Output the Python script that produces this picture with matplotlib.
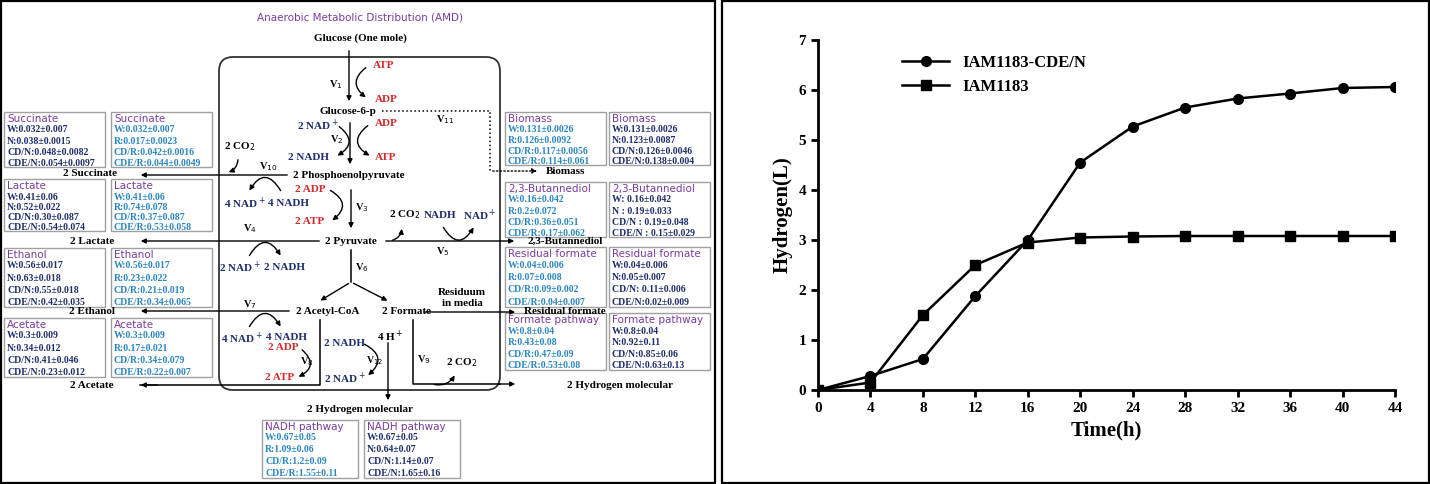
import matplotlib.pyplot as plt
from matplotlib.patches import FancyBboxPatch, Rectangle, FancyArrowPatch

# ---- growth curve data ----
time_h = [0, 4, 8, 12, 16, 20, 24, 28, 32, 36, 40, 44]
h2_cde = [0, 0.28, 0.62, 1.88, 3.0, 4.55, 5.27, 5.65, 5.83, 5.93, 6.04, 6.06]
h2_wt = [0, 0.15, 1.5, 2.5, 2.95, 3.05, 3.07, 3.08, 3.08, 3.08, 3.08, 3.08]
series_names = ["IAM1183-CDE/N", "IAM1183"]

# ---- flux boxes: title, lines ----
left_boxes_n = [
    ("Succinate", ["W:0.032±0.007", "N:0.038±0.0015", "CD/N:0.048±0.0082", "CDE/N:0.054±0.0097"]),
    ("Lactate", ["W:0.41±0.06", "N:0.52±0.022", "CD/N:0.30±0.087", "CDE/N:0.54±0.074"]),
    ("Ethanol", ["W:0.56±0.017", "N:0.63±0.018", "CD/N:0.55±0.018", "CDE/N:0.42±0.035"]),
    ("Acetate", ["W:0.3±0.009", "N:0.34±0.012", "CD/N:0.41±0.046", "CDE/N:0.23±0.012"]),
]
left_boxes_r = [
    ("Succinate", ["W:0.032±0.007", "R:0.017±0.0023", "CD/R:0.042±0.0016", "CDE/R:0.044±0.0049"]),
    ("Lactate", ["W:0.41±0.06", "R:0.74±0.078", "CD/R:0.37±0.087", "CDE/R:0.53±0.058"]),
    ("Ethanol", ["W:0.56±0.017", "R:0.23±0.022", "CD/R:0.21±0.019", "CDE/R:0.34±0.065"]),
    ("Acetate", ["W:0.3±0.009", "R:0.17±0.021", "CD/R:0.34±0.079", "CDE/R:0.22±0.007"]),
]
right_boxes_r = [
    ("Biomass", ["W:0.131±0.0026", "R:0.126±0.0092", "CD/R:0.117±0.0056", "CDE/R:0.114±0.061"]),
    ("2,3-Butannediol", ["W:0.16±0.042", "R:0.2±0.072", "CD/R:0.36±0.051", "CDE/R:0.17±0.062"]),
    ("Residual formate", ["W:0.04±0.006", "R:0.07±0.008", "CD/R:0.09±0.002", "CDE/R:0.04±0.007"]),
    ("Formate pathway", ["W:0.8±0.04", "R:0.43±0.08", "CD/R:0.47±0.09", "CDE/R:0.53±0.08"]),
]
right_boxes_n = [
    ("Biomass", ["W:0.131±0.0026", "N:0.123±0.0087", "CD/N:0.126±0.0046", "CDE/N:0.138±0.004"]),
    ("2,3-Butannediol", ["W: 0.16±0.042", "N : 0.19±0.033", "CD/N : 0.19±0.048", "CDE/N : 0.15±0.029"]),
    ("Residual formate", ["W:0.04±0.006", "N:0.05±0.007", "CD/N: 0.11±0.006", "CDE/N:0.02±0.009"]),
    ("Formate pathway", ["W:0.8±0.04", "N:0.92±0.11", "CD/N:0.85±0.06", "CDE/N:0.63±0.13"]),
]
nadh_box_r = ("NADH pathway", ["W:0.67±0.05", "R:1.09±0.06", "CD/R:1.2±0.09", "CDE/R:1.55±0.11"])
nadh_box_n = ("NADH pathway", ["W:0.67±0.05", "N:0.64±0.07", "CD/N:1.14±0.07", "CDE/N:1.65±0.16"])

NAVY = "#1f2d6b"
BLUE = "#2a86c0"
PURPLE = "#7a3c9e"
RED = "#d42a2a"
SERIF = "Liberation Serif"

fig = plt.figure(figsize=(14.3, 4.84), dpi=100)

# panel borders
for x0, w in [(0.001, 0.499), (0.505, 0.494)]:
    fig.patches.append(Rectangle((x0, 0.003), w, 0.994, transform=fig.transFigure,
                                 fill=False, lw=1.6, ec="black"))

# ---------------- left: pathway diagram ----------------
ax = fig.add_axes([0, 0, 715 / 1430, 1])
ax.set_xlim(0, 715)
ax.set_ylim(484, 0)
ax.axis("off")


def box(x, y, entry, color, w=101, h=56):
    title, lines = entry
    ax.add_patch(Rectangle((x, y), w, h, fill=False, ec="#a0a0a0", lw=1))
    step = (h - 15) / 3.6
    ax.text(x + 3, y + 7, title, color=PURPLE, fontsize=7.5, family="DejaVu Sans", va="center")
    for i, line in enumerate(lines):
        ax.text(x + 3, y + 18 + i * step, line, color=color, fontsize=7,
                family=SERIF, weight="bold", va="center")


left_rows = [(112, 55), (179, 52), (248, 59), (318, 59)]
right_rows = [(112, 53), (182, 55), (247, 60), (313, 57)]
for i in range(4):
    y, h = left_rows[i]
    box(4, y, left_boxes_n[i], NAVY, h=h)
    box(111, y, left_boxes_r[i], BLUE, h=h)
    y, h = right_rows[i]
    box(505, y, right_boxes_r[i], BLUE, h=h)
    box(609, y, right_boxes_n[i], NAVY, h=h)
box(262, 420, nadh_box_r, BLUE, w=96, h=58)
box(364, 420, nadh_box_n, NAVY, w=96, h=58)


def t(x, y, s, color="black", size=8, ha="center"):
    ax.text(x, y, s, color=color, fontsize=size, family=SERIF, weight="bold",
            ha=ha, va="center")


def line(xs, ys, ls="-"):
    ax.plot(xs, ys, color="black", lw=1.1, ls=ls)


def arrow(x0, y0, x1, y1, rad=0.0, ls="-"):
    ax.add_patch(FancyArrowPatch((x0, y0), (x1, y1), arrowstyle="-|>", mutation_scale=7,
                                 color="black", lw=1, ls=ls,
                                 connectionstyle=f"arc3,rad={rad}"))


ax.text(360, 18, "Anaerobic Metabolic Distribution (AMD)", color=PURPLE, fontsize=7.5,
        ha="center", va="center")
t(360, 38, "Glucose (One mole)")
ax.add_patch(FancyBboxPatch((219, 57), 281, 333, boxstyle="round,pad=0,rounding_size=14",
                            fill=False, ec="#333333", lw=1.3))

# glucose -> G6P
arrow(349, 48, 349, 104)
t(336, 85, "V$_1$", size=7.5)
t(384, 66, "ATP", RED)
t(386, 99, "ADP", RED)
arrow(368, 66, 368, 99, rad=0.7)
t(348, 111, "Glucose-6-p")
# G6P -> PEP
arrow(350, 120, 350, 167)
t(318, 125, "2 NAD$^+$", NAVY)
t(386, 124, "ADP", RED)
t(337, 140, "V$_2$", size=7.5)
t(308, 157, "2 NADH", NAVY)
t(386, 157, "ATP", RED)
arrow(337, 125, 335, 157, rad=-0.8)
arrow(370, 124, 372, 157, rad=0.8)
t(349, 175, "2 Phosphoenolpyruvate")
arrow(290, 175, 138, 175)
t(90, 174, "2 Succinate")
t(240, 147, "2 CO$_2$")
arrow(238, 157, 226, 173, rad=-0.4)
t(268, 167, "V$_{10}$", size=7.5)
t(245, 203, "4 NAD$^+$", NAVY)
t(288, 203, "4 NADH", NAVY)
arrow(282, 193, 248, 193, rad=0.9)
# PEP -> pyruvate
arrow(351, 187, 351, 231)
t(310, 189, "2 ADP", RED)
t(362, 208, "V$_3$", size=7.5)
t(310, 222, "2 ATP", RED)
arrow(328, 189, 330, 222, rad=-0.8)
t(351, 241, "2 Pyruvate")
arrow(322, 241, 138, 241)
t(92, 241, "2 Lactate")
t(250, 229, "V$_4$", size=7.5)
t(240, 267, "2 NAD$^+$", NAVY)
t(285, 267, "2 NADH", NAVY)
arrow(248, 258, 282, 258, rad=-0.9)
# pyruvate -> butanediol
arrow(383, 241, 517, 241)
t(565, 241, "2,3-Butannediol")
t(405, 215, "2 CO$_2$")
arrow(390, 241, 402, 226, rad=0.4)
t(440, 215, "NADH", NAVY)
t(480, 215, "NAD$^+$", NAVY)
arrow(442, 225, 475, 225, rad=0.9)
t(443, 252, "V$_5$", size=7.5)
# pyruvate -> acetyl-CoA / formate
line([351, 351], [250, 282])
arrow(351, 282, 318, 302)
arrow(351, 282, 390, 302)
t(362, 268, "V$_6$", size=7.5)
t(328, 311, "2 Acetyl-CoA")
t(407, 311, "2 Formate")
t(462, 298, "Residuum\nin media")
arrow(422, 312, 518, 312)
t(565, 312, "Residual formate")
arrow(292, 311, 138, 311)
t(92, 312, "2 Ethanol")
t(250, 305, "V$_7$", size=7.5)
t(242, 338, "4 NAD$^+$", NAVY)
t(287, 338, "4 NADH", NAVY)
arrow(248, 329, 282, 329, rad=-0.9)
# acetate branch
line([320, 320, 140], [320, 385, 385])
arrow(160, 385, 138, 385)
t(92, 386, "2 Acetate")
t(283, 348, "2 ADP", RED)
t(307, 362, "V$_8$", size=7.5)
t(280, 378, "2 ATP", RED)
arrow(300, 348, 296, 378, rad=-0.8)
# NADH pathway
t(345, 343, "2 NADH", NAVY)
t(390, 336, "4 H$^+$")
t(375, 361, "V$_{12}$", size=7)
t(345, 378, "2 NAD$^+$", NAVY)
arrow(362, 343, 366, 377, rad=-0.8)
arrow(388, 340, 388, 403)
t(360, 409, "2 Hydrogen molecular")
# formate pathway
line([413, 413, 500], [320, 384, 384])
arrow(495, 384, 518, 384)
t(620, 385, "2 Hydrogen molecular")
t(424, 360, "V$_9$", size=7.5)
t(462, 363, "2 CO$_2$")
arrow(432, 384, 456, 373, rad=0.4)
# biomass (dotted)
line([382, 490, 490], [111, 111, 171], ls=":")
arrow(490, 171, 540, 171, ls=":")
t(565, 171, "Biomass")
t(445, 120, "V$_{11}$", size=7.5)

# ---------------- right: hydrogen production ----------------
ax2 = fig.add_axes([818 / 1430, 94 / 484, 577 / 1430, 350 / 484])
ax2.plot(time_h, h2_cde, color="black", lw=1.8, marker="o", ms=7, label=series_names[0])
ax2.plot(time_h, h2_wt, color="black", lw=1.8, marker="s", ms=7, label=series_names[1])
ax2.set_xlim(0, 44)
ax2.set_ylim(0, 7)
ax2.set_xticks(time_h)
ax2.set_yticks(range(8))
for s in ["top", "right"]:
    ax2.spines[s].set_visible(False)
for s in ["left", "bottom"]:
    ax2.spines[s].set_linewidth(2)
ax2.tick_params(width=2, length=5, labelsize=11)
for lab in ax2.get_xticklabels() + ax2.get_yticklabels():
    lab.set_family(SERIF)
    lab.set_weight("bold")
ax2.set_xlabel("Time(h)", family=SERIF, weight="bold", fontsize=15)
ax2.set_ylabel("Hydrogen(L)", family=SERIF, weight="bold", fontsize=15)
ax2.legend(loc="upper left", bbox_to_anchor=(0.12, 1.0), frameon=False,
           prop={"family": SERIF, "weight": "bold", "size": 12}, handlelength=2.8)

fig.savefig("out.png", dpi=100)
